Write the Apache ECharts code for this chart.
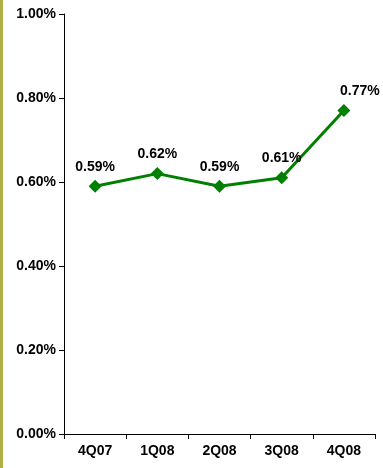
<!DOCTYPE html>
<html><head><meta charset="utf-8">
<script src="https://cdn.jsdelivr.net/npm/echarts@6/dist/echarts.min.js"></script>
<style>html,body{margin:0;padding:0;background:#fff}#c{width:383px;height:468px}</style>
</head><body><div id="c"></div>
<script>
const categories = ['4Q07','1Q08','2Q08','3Q08','4Q08'];
const values = [0.59, 0.62, 0.59, 0.61, 0.77];
const chart = echarts.init(document.getElementById('c'));
const font = 'Liberation Sans, Arial, sans-serif';
chart.setOption({
  animation: false,
  graphic: [{type:'rect', left:0, top:0, shape:{width:3, height:468}, style:{fill:'#b0b048'}}],
  grid: {left: 64, right: 8, top: 14, bottom: 34},
  xAxis: {
    type: 'category', data: categories, boundaryGap: true,
    axisLine: {lineStyle: {color: '#000', width: 1}},
    axisTick: {show: true, length: 5, inside: false, lineStyle: {color: '#000'}},
    axisLabel: {color: '#000', fontWeight: 'bold', fontSize: 14, fontFamily: font, margin: 10}
  },
  yAxis: {
    type: 'value', min: 0, max: 1, interval: 0.2,
    axisLine: {show: true, lineStyle: {color: '#000', width: 1}},
    axisTick: {show: true, length: 5, lineStyle: {color: '#000'}},
    splitLine: {show: false},
    axisLabel: {color: '#000', fontWeight: 'bold', fontSize: 14, fontFamily: font, margin: 8,
      formatter: v => v.toFixed(2) + '%'}
  },
  series: [{
    type: 'line',
    data: values.map((v, i) => i === values.length - 1 ? {value: v, label: {offset: [16, 0]}} : v),
    lineStyle: {color: '#008000', width: 3},
    itemStyle: {color: '#008000'},
    symbol: 'diamond', symbolSize: 13,
    label: {show: true, position: 'top', distance: 6, color: '#000', fontWeight: 'bold', fontSize: 14, fontFamily: font,
      formatter: p => p.value.toFixed(2) + '%'}
  }]
});
</script></body></html>
